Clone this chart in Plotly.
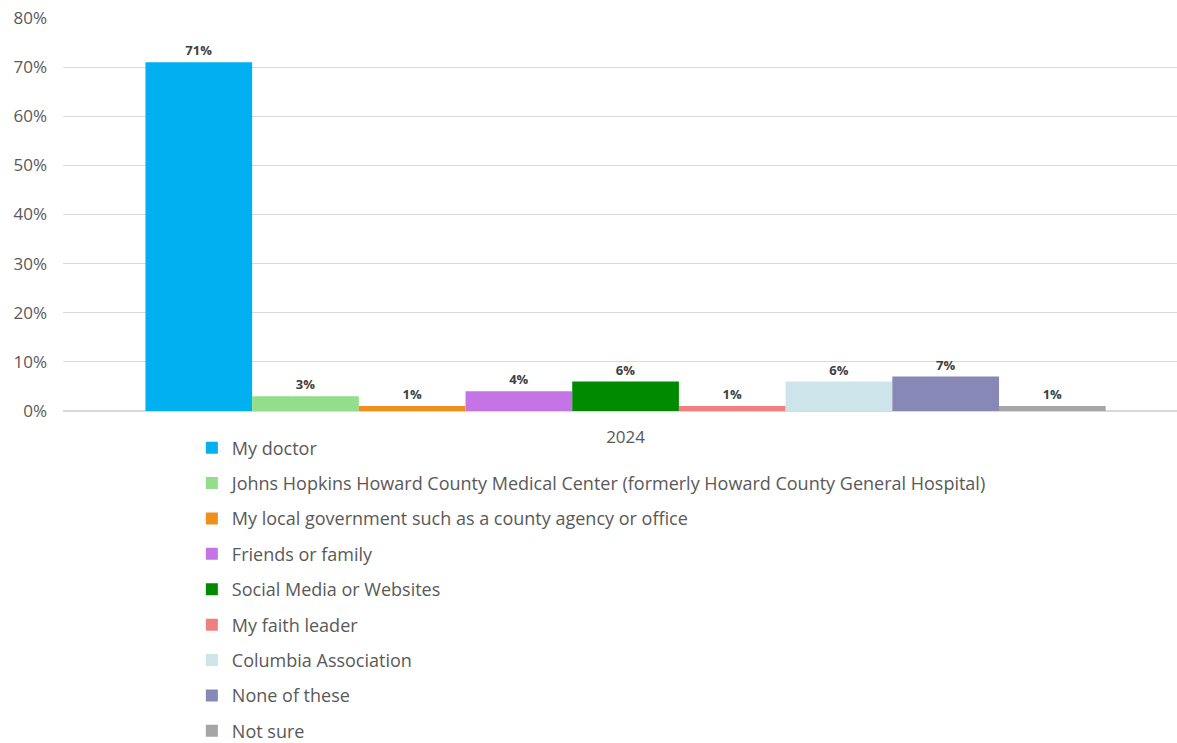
import plotly.graph_objects as go

# Survey responses, single year
year = ["2024"]
sources = [
    "My doctor",
    "Johns Hopkins Howard County Medical Center (formerly Howard County General Hospital)",
    "My local government such as a county agency or office",
    "Friends or family",
    "Social Media or Websites",
    "My faith leader",
    "Columbia Association",
    "None of these",
    "Not sure",
]
shares = [71, 3, 1, 4, 6, 1, 6, 7, 1]
colors = [
    "#00B0F0", "#92DE8C", "#F0901C", "#C574E6", "#008A00",
    "#F08080", "#CDE4EA", "#8888B6", "#A6A6A6",
]
y_ticks = [0, 10, 20, 30, 40, 50, 60, 70, 80]
y_tick_text = [f"{v}%" for v in y_ticks]

FONT = "Open Sans"
GREY = "#595959"

fig = go.Figure()
for i, (name, val, col) in enumerate(zip(sources, shares, colors)):
    fig.add_trace(go.Bar(
        x=year, y=[val], name=name, marker_color=col, marker_line_width=0,
        text=[f"{val}%"], textposition="outside", cliponaxis=False,
        textfont=dict(family=FONT, size=13, color="#404040", weight="bold"),
        legendgroup=f"g{i}",
    ))

fig.update_layout(
    width=1177, height=743,
    margin=dict(l=63, r=0, t=18, b=332, autoexpand=False),
    barmode="group", bargap=0.138, bargroupgap=0,
    plot_bgcolor="white", paper_bgcolor="white",
    font=dict(family=FONT, color=GREY, size=17),
    showlegend=True,
    legend=dict(
        orientation="v", traceorder="grouped", tracegroupgap=9,
        xref="container", yref="container", x=0.163, y=0.422,
        xanchor="left", yanchor="top",
        font=dict(family=FONT, size=18, color=GREY),
        bgcolor="rgba(0,0,0,0)",
    ),
    xaxis=dict(
        range=[-0.505, 0.495], showgrid=False, showline=False, ticks="",
        ticklabelstandoff=14,
        tickfont=dict(family=FONT, size=17, color=GREY),
    ),
    yaxis=dict(
        range=[0, 80], tickmode="array", tickvals=y_ticks, ticktext=y_tick_text,
        showgrid=True, gridcolor="#D9D9D9", gridwidth=1, zeroline=True,
        zerolinecolor="#D9D9D9", showline=False, ticks="",
        ticklabelstandoff=15,
        tickfont=dict(family=FONT, size=17, color=GREY),
    ),
)

fig.write_html("out.html")
